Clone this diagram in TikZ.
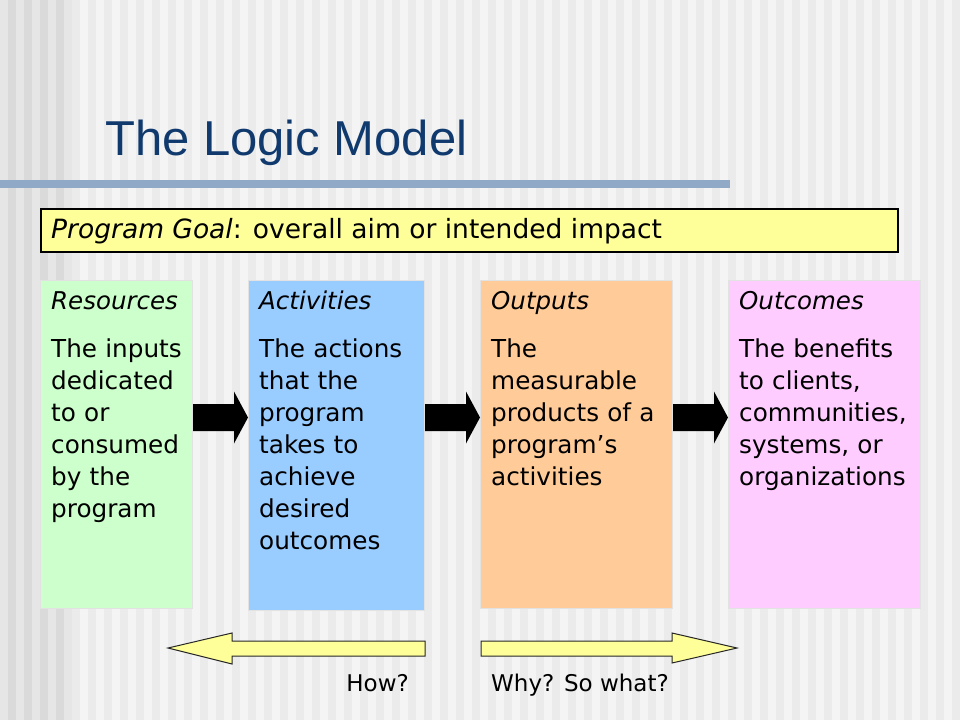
\documentclass[tikz,border=0pt]{standalone}
\usepackage{fontspec}
\setmainfont{DejaVu Sans}
\newfontfamily\titlefont{Liberation Sans}
\usetikzlibrary{calc}
\definecolor{titleblue}{RGB}{16,58,110}
\definecolor{barblue}{RGB}{143,169,199}
\definecolor{goalyellow}{HTML}{FFFF99}
\definecolor{resgreen}{HTML}{CCFFCC}
\definecolor{actblue}{HTML}{99CCFF}
\definecolor{outorange}{HTML}{FFCC99}
\definecolor{outcpink}{HTML}{FFCCFF}
\definecolor{stripeA}{HTML}{F4F4F4}
\definecolor{stripeB}{HTML}{EBEBEB}
\definecolor{stripeC}{HTML}{E6E6E6}
\definecolor{stripeD}{HTML}{DADADA}
\definecolor{boxedge}{HTML}{E2E2E2}
\newcommand\blkarrow[2]{%
  \fill[blockarrow] ($(#1.east |- ay)+(0,13.5)$) -- ($(#2.west |- ay)+(-14,13.5)$)
    -- ($(#2.west |- ay)+(-14,26)$) -- (#2.west |- ay) -- ($(#2.west |- ay)+(-14,-26)$)
    -- ($(#2.west |- ay)+(-14,-13.5)$) -- ($(#1.east |- ay)+(0,-13.5)$) -- cycle;}
\begin{document}
\begin{tikzpicture}[x=1pt,y=1pt,
  colbox/.style={draw=boxedge, line width=1pt, anchor=north west, inner sep=0pt, minimum height=328pt},
  headtxt/.style={anchor=base west, inner sep=0pt, font=\fontsize{24.5}{28}\selectfont\itshape},
  bodytxt/.style={anchor=base west, inner sep=0pt, text width=220pt, align=left, font=\fontsize{24.7}{32}\selectfont},
  blockarrow/.style={fill=black},
  hollowarrow/.style={fill=goalyellow, draw=black!85, line width=1pt, line join=miter},
  qtxt/.style={inner sep=0pt, font=\fontsize{23}{26}\selectfont}
]
\useasboundingbox (0,0) rectangle (960,-720);
% background stripes
\fill[stripeA] (0,0) rectangle (960,-720);
\foreach \i in {9,11,...,119} \fill[stripeB] (\i*8,0) rectangle ({\i*8+8},-720);
\fill[stripeC] (0,0) rectangle (72,-720);
\foreach \i in {1,3,5,7} \fill[stripeD] (\i*8,0) rectangle ({\i*8+8},-720);

% title and bar
\node[anchor=base west, inner sep=0pt, text=titleblue, font=\titlefont\fontsize{49}{56}\selectfont] (title) at (105,-155) {The Logic Model};
\fill[barblue] (0,-180) rectangle (730,-188);

% goal box
\node[draw=black, line width=1.5pt, fill=goalyellow, anchor=north west, minimum width=857pt, minimum height=43pt, inner sep=0pt] (goal) at (40,-208) {};
\node[anchor=base west, inner sep=0pt, font=\fontsize{26.5}{30}\selectfont] (goaltxt) at (51,-238) {\textit{Program Goal}: overall aim or intended impact};

% column boxes
\node[colbox, fill=resgreen, minimum width=152pt] (res) at (40,-280) {};
\node[colbox, fill=actblue, minimum width=176pt, minimum height=330pt] (act) at (248,-280) {};
\node[colbox, fill=outorange, minimum width=192pt] (outp) at (480,-280) {};
\node[colbox, fill=outcpink, minimum width=192pt] (outc) at (728,-280) {};

\node[headtxt] (resH) at ($(res.north west)+(11,-29)$) {Resources};
\node[bodytxt] (resB) at ($(res.north west)+(11,-77)$) {The inputs\\dedicated\\to or\\consumed\\by the\\program};
\node[headtxt] (actH) at ($(act.north west)+(11,-29)$) {Activities};
\node[bodytxt] (actB) at ($(act.north west)+(11,-77)$) {The actions\\that the\\program\\takes to\\achieve\\desired\\outcomes};
\node[headtxt] (outpH) at ($(outp.north west)+(11,-29)$) {Outputs};
\node[bodytxt] (outpB) at ($(outp.north west)+(11,-77)$) {The\\measurable\\products of a\\program’s\\activities};
\node[headtxt] (outcH) at ($(outc.north west)+(11,-29)$) {Outcomes};
\node[bodytxt] (outcB) at ($(outc.north west)+(11,-77)$) {The benefits\\to clients,\\communities,\\systems, or\\organizations};

% black block arrows
\coordinate (ay) at (0,-417.5);
\blkarrow{res}{act}
\blkarrow{act}{outp}
\blkarrow{outp}{outc}

% bottom arrows
\draw[hollowarrow] (425,-641) -- (232,-641) -- (232,-633) -- (168,-648) -- (232,-664) -- (232,-656) -- (425,-656) -- cycle;
\draw[hollowarrow] (481,-641) -- (672,-641) -- (672,-633) -- (737,-648) -- (672,-663) -- (672,-656) -- (481,-656) -- cycle;
\node[qtxt, anchor=base east] (how) at (409,-691) {How?};
\node[qtxt, anchor=base west] (why) at (491,-691) {Why? So what?};
\end{tikzpicture}
\end{document}
